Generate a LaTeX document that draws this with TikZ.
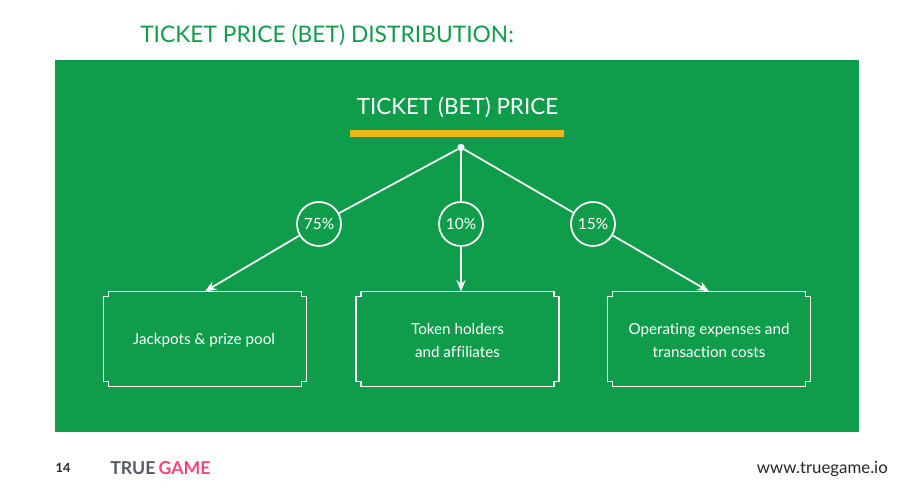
\documentclass[tikz,border=0pt]{standalone}
\usepackage{fontspec}
\setmainfont[Ligatures=NoCommon]{Lato}
\usetikzlibrary{arrows.meta}
\definecolor{tgreen}{HTML}{0F9D4B}
\definecolor{tyellow}{HTML}{EDB718}
\definecolor{tgrey}{HTML}{555B63}
\definecolor{tpink}{HTML}{EE4A78}
\tikzset{
  stake/.style={circle,draw=white,line width=1.3pt,minimum size=33pt,inner sep=0pt,text=white,font=\fontsize{11.6}{14}\selectfont},
  share/.style={minimum width=152pt,minimum height=71pt,inner sep=0pt},
  sharetext/.style={align=center,text=white,inner sep=0pt,yshift=-1pt,font=\fontsize{11.4}{17.3}\selectfont},
  wire/.style={draw=white,line width=1.3pt}
}
% box outline with cut corners
\newcommand{\notchbox}[1]{
  \draw[wire] ([xshift=3.75pt]#1.north west) -- ([xshift=-3.75pt]#1.north east) -- ++(0,-3.75pt) -- ++(3.75pt,0)
    -- ([yshift=3.75pt]#1.south east) -- ++(-3.75pt,0) -- ++(0,-3.75pt)
    -- ([xshift=3.75pt]#1.south west) -- ++(0,3.75pt) -- ++(-3.75pt,0)
    -- ([yshift=-3.75pt]#1.north west) -- ++(3.75pt,0) -- cycle;
}

\begin{document}
\begin{tikzpicture}[x=0.75pt, y=-0.75pt,>={Stealth[length=8.5pt,width=7pt]}]
    \useasboundingbox (0,0) rectangle (911,492);
    \fill[tgreen] (55,60) rectangle (859,432);
    \node[text=tgreen,anchor=west,inner sep=0pt,font=\fontsize{17.1}{20}\selectfont] at (140,35) (heading) {TICKET PRICE (BET) DISTRIBUTION:};
    \node[text=white,inner sep=0pt,font=\fontsize{16.8}{20}\selectfont] at (457.5,107.5) (price) {TICKET (BET) PRICE};
    \fill[tyellow] (349.5,130) rectangle (564,137);
    \node[circle,fill=white,minimum size=5.5pt,inner sep=0pt] at (461,147.5) (root) {};

    \node[stake] at (319,224) (pa) {75\%};
    \node[stake] at (461,224) (pb) {10\%};
    \node[stake] at (593,224) (pc) {15\%};

    \node[share,label={[sharetext,xshift=-0.8pt]center:Jackpots \& prize pool}] at (205,339) (boxa) {};
    \node[share,label={[sharetext]center:Token holders\\and affiliates}] at (457.5,339) (boxb) {};
    \node[share,label={[sharetext]center:Operating expenses and\\transaction costs}] at (709,339) (boxc) {};
    \foreach \b in {boxa,boxb,boxc} {\notchbox{\b}}

    \foreach \p in {pa,pb,pc} {\draw[wire] (root) -- (\p);}
    \draw[wire,->] (pa) -- (boxa.north);
    \draw[wire,->] (pb) -- (pb |- boxb.north);
    \draw[wire,->] (pc) -- (boxc.north);

    \node[text=black!85,inner sep=0pt,font=\fontsize{9.5}{11}\bfseries\selectfont] at (63,468) (pageno) {14};
    \node[anchor=west,inner sep=0pt,font=\fontsize{13.3}{14}\bfseries\selectfont] at (110,468) (logo) {\textcolor{tgrey}{TRUE}\,\textcolor{tpink}{GAME}};
    \node[anchor=east,text=black!85,inner sep=0pt,font=\fontsize{12.6}{14}\selectfont] at (888,469) (site) {www.truegame.io};
  \end{tikzpicture}
\end{document}
